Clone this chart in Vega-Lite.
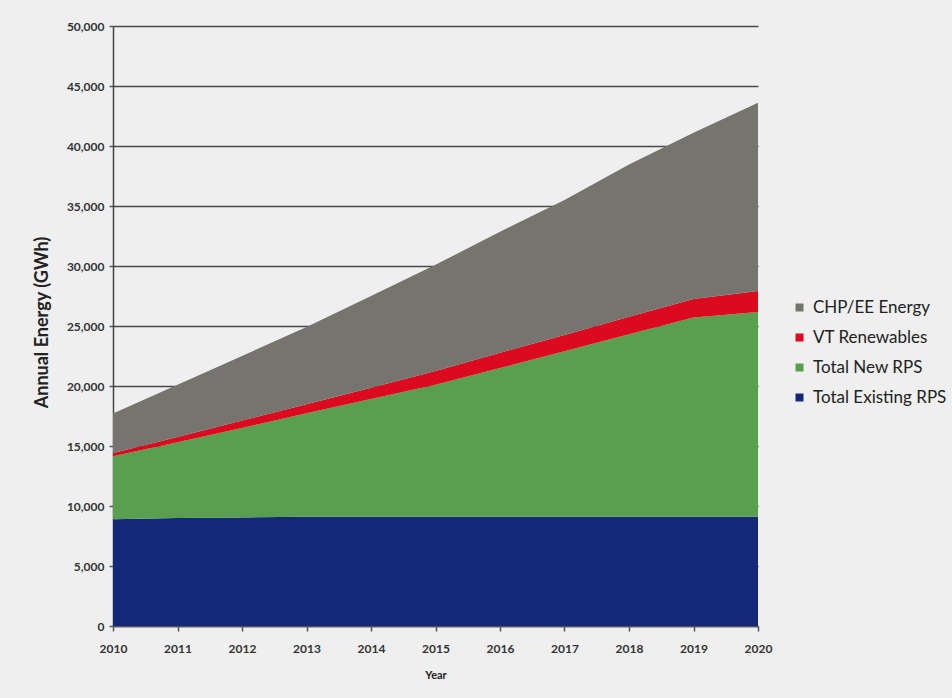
{
  "$schema": "https://vega.github.io/schema/vega-lite/v6.json",
  "width": 645,
  "height": 600,
  "autosize": {"type": "none"},
  "padding": {"left": 113, "top": 26, "right": 194, "bottom": 72},
  "background": "#efefef",
  "config": {"view": {"stroke": null}, "font": "Lato"},
  "data": {
    "values": [
      {"year": 2010, "series": "Total Existing RPS", "energy": 8900},
      {"year": 2011, "series": "Total Existing RPS", "energy": 9000},
      {"year": 2012, "series": "Total Existing RPS", "energy": 9050},
      {"year": 2013, "series": "Total Existing RPS", "energy": 9100},
      {"year": 2014, "series": "Total Existing RPS", "energy": 9100},
      {"year": 2015, "series": "Total Existing RPS", "energy": 9100},
      {"year": 2016, "series": "Total Existing RPS", "energy": 9100},
      {"year": 2017, "series": "Total Existing RPS", "energy": 9100},
      {"year": 2018, "series": "Total Existing RPS", "energy": 9100},
      {"year": 2019, "series": "Total Existing RPS", "energy": 9100},
      {"year": 2020, "series": "Total Existing RPS", "energy": 9100},
      {"year": 2010, "series": "Total New RPS", "energy": 5240},
      {"year": 2011, "series": "Total New RPS", "energy": 6320},
      {"year": 2012, "series": "Total New RPS", "energy": 7460},
      {"year": 2013, "series": "Total New RPS", "energy": 8620},
      {"year": 2014, "series": "Total New RPS", "energy": 9810},
      {"year": 2015, "series": "Total New RPS", "energy": 11010},
      {"year": 2016, "series": "Total New RPS", "energy": 12400},
      {"year": 2017, "series": "Total New RPS", "energy": 13790},
      {"year": 2018, "series": "Total New RPS", "energy": 15210},
      {"year": 2019, "series": "Total New RPS", "energy": 16600},
      {"year": 2020, "series": "Total New RPS", "energy": 17070},
      {"year": 2010, "series": "VT Renewables", "energy": 280},
      {"year": 2011, "series": "VT Renewables", "energy": 430},
      {"year": 2012, "series": "VT Renewables", "energy": 610},
      {"year": 2013, "series": "VT Renewables", "energy": 760},
      {"year": 2014, "series": "VT Renewables", "energy": 940},
      {"year": 2015, "series": "VT Renewables", "energy": 1140},
      {"year": 2016, "series": "VT Renewables", "energy": 1280},
      {"year": 2017, "series": "VT Renewables", "energy": 1370},
      {"year": 2018, "series": "VT Renewables", "energy": 1470},
      {"year": 2019, "series": "VT Renewables", "energy": 1540},
      {"year": 2020, "series": "VT Renewables", "energy": 1750},
      {"year": 2010, "series": "CHP/EE Energy", "energy": 3280},
      {"year": 2011, "series": "CHP/EE Energy", "energy": 4350},
      {"year": 2012, "series": "CHP/EE Energy", "energy": 5380},
      {"year": 2013, "series": "CHP/EE Energy", "energy": 6440},
      {"year": 2014, "series": "CHP/EE Energy", "energy": 7650},
      {"year": 2015, "series": "CHP/EE Energy", "energy": 8850},
      {"year": 2016, "series": "CHP/EE Energy", "energy": 10080},
      {"year": 2017, "series": "CHP/EE Energy", "energy": 11240},
      {"year": 2018, "series": "CHP/EE Energy", "energy": 12670},
      {"year": 2019, "series": "CHP/EE Energy", "energy": 13860},
      {"year": 2020, "series": "CHP/EE Energy", "energy": 15680}
    ]
  },
  "transform": [
    {"calculate": "indexof(['Total Existing RPS','Total New RPS','VT Renewables','CHP/EE Energy'], datum.series)", "as": "stackOrder"}
  ],
  "mark": {"type": "area", "interpolate": "linear"},
  "encoding": {
    "x": {
      "field": "year",
      "type": "quantitative",
      "scale": {"domain": [2010, 2020], "nice": false, "zero": false},
      "axis": {
        "title": "Year",
        "values": [2010, 2011, 2012, 2013, 2014, 2015, 2016, 2017, 2018, 2019, 2020],
        "format": "d",
        "grid": false,
        "domainColor": "#555555",
        "domainWidth": 1.5,
        "tickColor": "#555555",
        "tickSize": 5,
        "tickWidth": 1.5,
        "labelFont": "Lato",
        "labelFontSize": 12,
        "labelFontWeight": "bold",
        "labelColor": "#333333",
        "labelPadding": 12,
        "labelFlush": false,
        "titleFont": "Lato",
        "titleFontSize": 11,
        "titleFontWeight": "bold",
        "titleColor": "#222222",
        "titlePadding": 15
      }
    },
    "y": {
      "field": "energy",
      "type": "quantitative",
      "stack": "zero",
      "scale": {"domain": [0, 50000], "nice": false},
      "axis": {
        "title": "Annual Energy (GWh)",
        "values": [0, 5000, 10000, 15000, 20000, 25000, 30000, 35000, 40000, 45000, 50000],
        "format": ",d",
        "grid": true,
        "gridColor": "#4a4a4a",
        "gridWidth": 1.5,
        "domainColor": "#444444",
        "domainWidth": 1.5,
        "tickColor": "#555555",
        "tickSize": 4,
        "tickWidth": 1.5,
        "labelFont": "Lato",
        "labelFontSize": 12,
        "labelFontWeight": "bold",
        "labelColor": "#333333",
        "labelPadding": 5,
        "titleFont": "Lato",
        "titleFontSize": 18,
        "titleFontWeight": "bold",
        "titleColor": "#222222",
        "titleX": -62,
        "titleY": 296
      }
    },
    "color": {
      "field": "series",
      "type": "nominal",
      "scale": {
        "domain": ["CHP/EE Energy", "VT Renewables", "Total New RPS", "Total Existing RPS"],
        "range": ["#76746f", "#dc0a1e", "#5a9e4f", "#14287a"]
      },
      "legend": {
        "title": null,
        "orient": "none",
        "legendX": 678,
        "legendY": 273,
        "symbolType": "square",
        "symbolSize": 64,
        "symbolStrokeWidth": 0,
        "labelFont": "Lato",
        "labelFontSize": 17,
        "labelColor": "#222222",
        "labelOffset": 5,
        "rowPadding": 12
      }
    },
    "order": {"field": "stackOrder", "type": "quantitative"}
  }
}
